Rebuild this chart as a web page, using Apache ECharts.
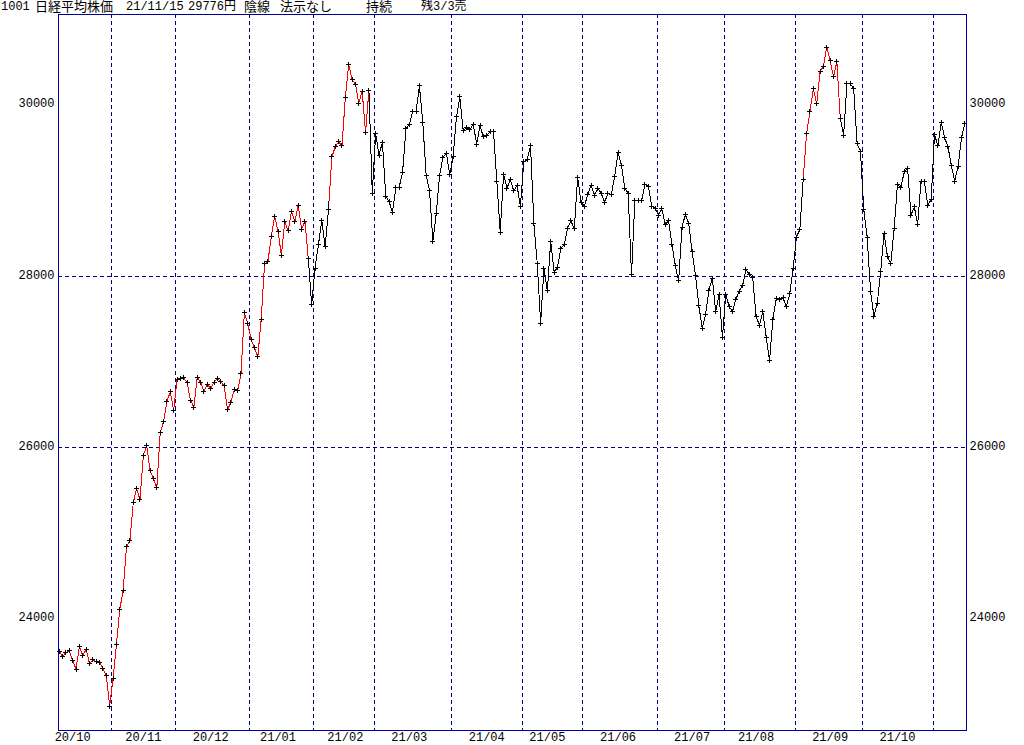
<!DOCTYPE html>
<html><head><meta charset="utf-8">
<script src="https://cdn.jsdelivr.net/npm/echarts@6/dist/echarts.min.js"></script>
<style>
html,body{margin:0;padding:0;background:#fff}
#c{width:1024px;height:745px}
#c svg path, #c svg rect, #c svg line, #c svg polyline{shape-rendering:crispEdges}
</style>
</head><body><div id="c"></div>
<script>
// ---- data ----
const months = ['20/10','20/11','20/12','21/01','21/02','21/03','21/04','21/05','21/06','21/07','21/08','21/09','21/10','21/11'];
const monthDays = [16,19,22,19,18,23,21,18,22,20,21,20,21,10];
const labelOffset = [4,9,10,8,9,10,10,7,10,10,9,10,10,-1];
const yTicks = [24000,26000,28000,30000];
const closes = [
 23619,23558,23601,23626,23507,23410,23671,23567,23639,23474,23516,23494,23485,23418,23331,22977,
 23295,23695,24105,24325,24839,24905,25349,25520,25385,25906,26014,25728,25634,25527,26165,26296,26537,26644,26433,
 26787,26800,26809,26751,26547,26467,26817,26756,26652,26732,26687,26757,26806,26763,26714,26436,26524,26668,26656,26854,27568,27444,
 27258,27158,27055,27490,28139,28164,28456,28698,28519,28242,28633,28523,28756,28631,28822,28546,28635,28197,27663,
 28091,28362,28646,28341,28779,29388,29505,29562,29520,30084,30467,30292,30236,30017,30156,29671,30168,28966,
 29663,29408,29559,28930,28864,28743,29027,29036,29211,29717,29766,29921,29914,30216,29792,29174,28995,28405,28729,29176,29384,29432,29178,
 29388,29854,30089,29696,29730,29708,29768,29538,29751,29621,29642,29683,29685,29100,28508,29188,29020,29126,28991,29053,28812,
 29331,29357,29518,28608,28147,27448,28084,27824,28406,28044,28098,28317,28364,28553,28642,28549,29149,28860,
 28814,28946,29058,28941,29019,28963,28860,28958,28948,29161,29441,29291,29018,28964,28010,28884,28874,28875,29066,29048,28812,28791,
 28707,28783,28598,28643,28366,28118,27940,28569,28718,28608,28279,28003,27652,27388,27548,27833,27970,27581,27782,27283,
 27781,27641,27584,27728,27820,27888,28070,28015,27977,27523,27424,27585,27281,27013,27494,27732,27724,27742,27641,27789,28089,
 28451,28543,29128,29659,29916,30181,30008,30381,30447,30670,30511,30323,30500,29839,29639,30248,30240,30183,29544,29452,
 28771,28444,27822,27528,27678,28048,28498,28230,28140,28550,29068,29025,29215,29255,28708,28804,28600,29106,29098,28820,28892,
 29647,29520,29794,29611,29507,29285,29106,29277,29609,29776
];
const redRanges = [[0,74],[80,92],[221,232]];
const titleParts = [
  ['1001', 1], ['日経平均株価', 35], ['21/11/15', 126], ['29776円', 188],
  ['陰線', 244], ['法示なし', 280], ['持続', 366], ['残3/3売', 421]
];
const yMin = 22698, yMax = 31056;

// ---- build ----
const cats = [], startSet = new Set(), labelSet = new Set();
months.forEach((m, k) => {
  startSet.add(cats.length);
  if (labelOffset[k] >= 0) labelSet.add(cats.length + labelOffset[k]);
  for (let d = 0; d < monthDays[k]; d++) cats.push(m);
});
startSet.delete(0);

const NAVY = '#000080';
const FONT = '"Liberation Mono", "DejaVu Sans Mono", monospace';
const JFONT = '"Liberation Mono", "Noto Sans CJK JP", monospace';
const dash = {color: NAVY, width: 1, type: [4, 3]};

const yAxisBase = (pos) => ({
  type: 'value', min: yMin, max: yMax, position: pos,
  axisLine: {show: false}, axisTick: {show: false, customValues: yTicks},
  axisLabel: {customValues: yTicks, color: '#000', fontSize: 12, fontFamily: FONT, margin: 3,
              formatter: (v) => String(Math.round(v))},
  splitLine: {show: pos === 'left', showMinLine: false, showMaxLine: false, lineStyle: dash}
});

const chart = echarts.init(document.getElementById('c'), null, {renderer: 'svg'});
chart.setOption({
  animation: false,
  backgroundColor: '#fff',
  grid: {left: 57.5, right: 57.5, top: 14, bottom: 15, show: false, containLabel: false},
  xAxis: {
    type: 'category', data: cats, boundaryGap: true,
    axisLine: {show: false}, axisTick: {show: false},
    axisLabel: {interval: (i) => labelSet.has(i), color: '#000', fontSize: 12, fontFamily: FONT, margin: 2},
    splitLine: {show: true, interval: (i) => startSet.has(i), lineStyle: dash}
  },
  yAxis: [yAxisBase('left'), yAxisBase('right')],
  visualMap: {
    type: 'piecewise', show: false, dimension: 0, seriesIndex: 0,
    pieces: redRanges.map(r => ({gte: r[0], lte: r[1], color: '#ff0000'})),
    outOfRange: {color: '#000000'}
  },
  graphic: [
    {type: 'rect', shape: {x: 58.5, y: 14.5, width: 908, height: 716}, style: {fill: null, stroke: '#0000a0', lineWidth: 1}, z: 50, silent: true}
  ].concat(titleParts.map(p => ({
    type: 'text', left: p[1], top: 1,
    style: {text: p[0], font: (/[^\x00-\x7f]/.test(p[0]) && !/\d/.test(p[0]) ? '13px ' : '12px ') + JFONT, fill: '#000'}
  }))),
  series: [
    {type: 'line', data: closes, showSymbol: false, symbol: 'none', lineStyle: {width: 1}, z: 3, silent: true},
    {type: 'scatter', data: closes, symbol: 'path://M2,0H3V5H2Z M0,2H5V3H0Z', symbolSize: 5,
     itemStyle: {color: '#000', opacity: 1}, z: 4, silent: true}
  ]
});
</script></body></html>
